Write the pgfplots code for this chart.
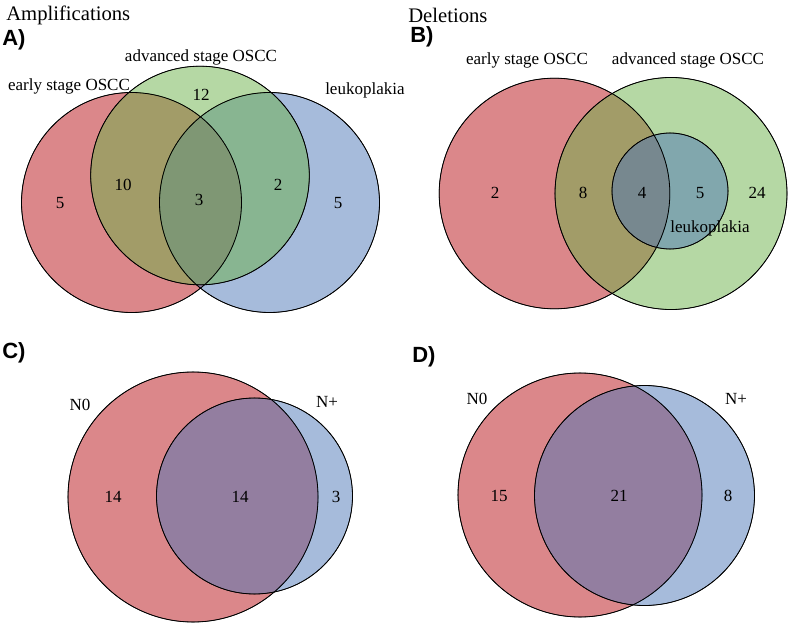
\documentclass[border=0pt]{standalone}
\usepackage{fontspec}
\setmainfont{Liberation Serif}
\newfontfamily\panelfont{Liberation Sans}
\usepackage{pgfplots}
\pgfplotsset{compat=1.18}
\definecolor{cred}{RGB}{183,15,21}
\definecolor{cgreen}{RGB}{107,177,73}
\definecolor{cblue}{RGB}{77,119,183}
\newcommand{\lab}{\fontsize{12.75}{15}\selectfont}
\newcommand{\ttl}{\fontsize{15.5}{18}\selectfont}
\newcommand{\pan}{\panelfont\bfseries\fontsize{16.5}{19}\selectfont}
\pgfplotsset{
  fillc/.style 2 args={only marks, mark=*, mark size=#1, mark options={draw=none, fill=#2, fill opacity=0.5}},
  edgec/.style={only marks, mark=o, mark size=#1, mark options={draw=black, line width=0.6pt}},
}
\begin{document}
\begin{tikzpicture}
\begin{axis}[x=0.75pt, y=0.75pt, xmin=0, xmax=789, ymin=0, ymax=624,
  y dir=reverse, hide axis, clip=false]
% ---- Panel A: red, blue, green
\addplot[fillc={82.5pt}{cred}] coordinates {(131.5,202.5)};
\addplot[fillc={82.5pt}{cblue}] coordinates {(269.5,202.5)};
\addplot[fillc={82pt}{cgreen}] coordinates {(200,175.5)};
\addplot[edgec=82.5pt] coordinates {(131.5,202.5) (269.5,202.5)};
\addplot[edgec=82pt] coordinates {(200,175.5)};
% ---- Panel B: red, green, blue
\addplot[fillc={86.5pt}{cred}] coordinates {(554.5,193.5)};
\addplot[fillc={87pt}{cgreen}] coordinates {(671,193.5)};
\addplot[fillc={43.5pt}{cblue}] coordinates {(670,191)};
\addplot[edgec=86.5pt] coordinates {(554.5,193.5)};
\addplot[edgec=87pt] coordinates {(671,193.5)};
\addplot[edgec=43.5pt] coordinates {(670,191)};
% ---- Panel C
\addplot[fillc={93.75pt}{cred}] coordinates {(193,497)};
\addplot[fillc={73.5pt}{cblue}] coordinates {(254.5,496)};
\addplot[edgec=93.75pt] coordinates {(193,497)};
\addplot[edgec=73.5pt] coordinates {(254.5,496)};
% ---- Panel D
\addplot[fillc={91.5pt}{cred}] coordinates {(580,495)};
\addplot[fillc={82.5pt}{cblue}] coordinates {(644.5,495.5)};
\addplot[edgec=91.5pt] coordinates {(580,495)};
\addplot[edgec=82.5pt] coordinates {(644.5,495.5)};
% ---- frame and anchor points for the texts
\coordinate (ll) at (axis cs:0,624);
\coordinate (ur) at (axis cs:789,0);
\coordinate (tA) at (axis cs:6,15);
\coordinate (tB) at (axis cs:408,15);
\coordinate (pA) at (axis cs:2,40);
\coordinate (pB) at (axis cs:410,37);
\coordinate (pC) at (axis cs:2,353);
\coordinate (pD) at (axis cs:412,357);
\coordinate (a1) at (axis cs:201,57);
\coordinate (a2) at (axis cs:69,86);
\coordinate (a3) at (axis cs:325,90);
\coordinate (a4) at (axis cs:60,203);
\coordinate (a5) at (axis cs:123,185);
\coordinate (a6) at (axis cs:199,200);
\coordinate (a7) at (axis cs:278,185);
\coordinate (a8) at (axis cs:338,203);
\coordinate (a9) at (axis cs:201,95);
\coordinate (b1) at (axis cs:527,60);
\coordinate (b2) at (axis cs:688,60);
\coordinate (b3) at (axis cs:495,193);
\coordinate (b4) at (axis cs:583,193);
\coordinate (b5) at (axis cs:642,193);
\coordinate (b6) at (axis cs:700,193);
\coordinate (b7) at (axis cs:757,193);
\coordinate (b8) at (axis cs:710,228);
\coordinate (c1) at (axis cs:80,405);
\coordinate (c2) at (axis cs:327,402);
\coordinate (c3) at (axis cs:113,497);
\coordinate (c4) at (axis cs:240,497);
\coordinate (c5) at (axis cs:336,497);
\coordinate (d1) at (axis cs:477,399);
\coordinate (d2) at (axis cs:736,399);
\coordinate (d3) at (axis cs:499,496);
\coordinate (d4) at (axis cs:619,496);
\coordinate (d5) at (axis cs:728,496);
\end{axis}
\begin{scope}[every node/.style={inner sep=0pt}]
% ---- Titles
\node[anchor=west] at (tA) {\ttl Amplifications};
\node[anchor=west] at (tB) {\ttl Deletions};
\node[anchor=west] at (pA) {\pan A)};
\node[anchor=west] at (pB) {\pan B)};
\node[anchor=west] at (pC) {\pan C)};
\node[anchor=west] at (pD) {\pan D)};
% ---- Panel A
\node at (a1) {\lab advanced stage OSCC};
\node at (a2) {\lab early stage OSCC};
\node[anchor=west] at (a3) {\lab leukoplakia};
\node at (a4) {\lab 5};
\node at (a5) {\lab 10};
\node at (a6) {\lab 3};
\node at (a7) {\lab 2};
\node at (a8) {\lab 5};
\node at (a9) {\lab 12};
% ---- Panel B
\node at (b1) {\lab early stage OSCC};
\node at (b2) {\lab advanced stage OSCC};
\node at (b3) {\lab 2};
\node at (b4) {\lab 8};
\node at (b5) {\lab 4};
\node at (b6) {\lab 5};
\node at (b7) {\lab 24};
\node at (b8) {\lab leukoplakia};
% ---- Panel C
\node at (c1) {\lab N0};
\node at (c2) {\lab N+};
\node at (c3) {\lab 14};
\node at (c4) {\lab 14};
\node at (c5) {\lab 3};
% ---- Panel D
\node at (d1) {\lab N0};
\node at (d2) {\lab N+};
\node at (d3) {\lab 15};
\node at (d4) {\lab 21};
\node at (d5) {\lab 8};
\end{scope}
\pgfresetboundingbox
\path[use as bounding box] (ll) rectangle (ur);
\end{tikzpicture}
\end{document}
